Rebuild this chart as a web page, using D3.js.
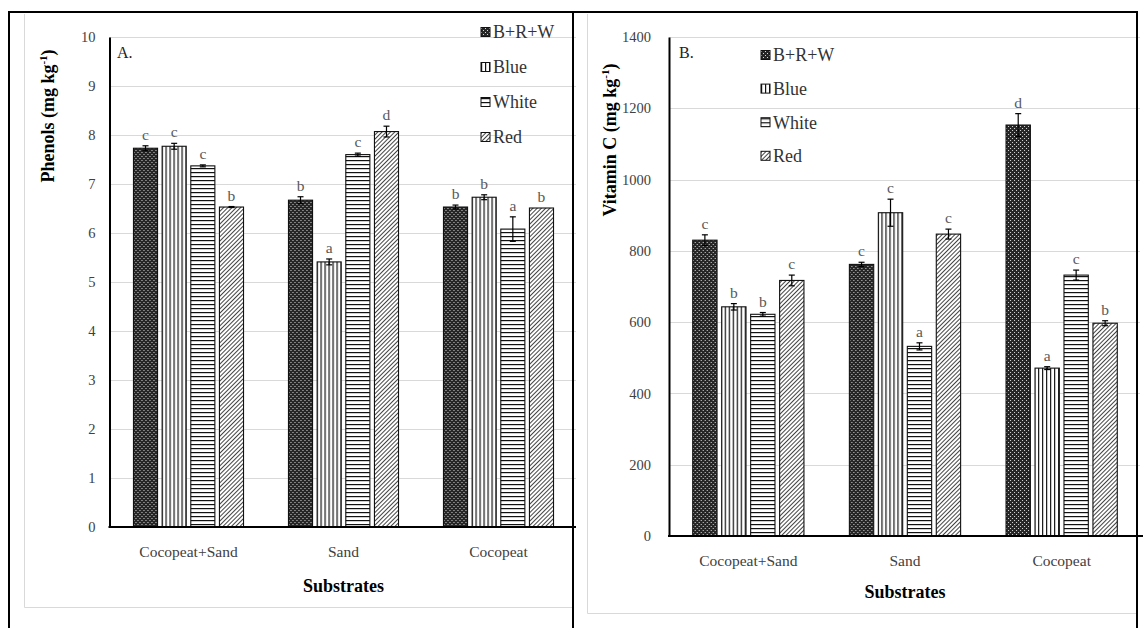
<!DOCTYPE html>
<html>
<head>
<meta charset="utf-8">
<script src="https://cdn.jsdelivr.net/npm/d3@7"></script>
<style>
  body { margin: 0; background: #fff; }
  svg { display: block; }
  text { font-family: "Liberation Serif", "Times New Roman", serif; }
</style>
</head>
<body>
<svg id="chart" width="1143" height="628"></svg>
<script>
// ---- data ----
const substrates = ["Cocopeat+Sand", "Sand", "Cocopeat"];
const treatments = ["B+R+W", "Blue", "White", "Red"];

// Phenols (mg kg-1): one row per substrate, one column per light treatment
const phenolMeans   = [[7.73, 7.77, 7.37, 6.53], [6.67, 5.41, 7.60, 8.07], [6.53, 6.73, 6.08, 6.51]];
const phenolErrors  = [[0.05, 0.06, 0.02, 0.01], [0.07, 0.06, 0.03, 0.11], [0.04, 0.05, 0.25, 0.00]];
const phenolLetters = [["c", "c", "c", "b"], ["b", "a", "c", "d"], ["b", "b", "a", "b"]];
const phenolTicks   = [0, 1, 2, 3, 4, 5, 6, 7, 8, 9, 10];

// Vitamin C (mg kg-1)
const vitCMeans   = [[830, 643, 622, 717], [762, 907, 532, 847], [1153, 471, 732, 597]];
const vitCErrors  = [[15, 9, 5, 15], [6, 38, 10, 14], [32, 4, 14, 7]];
const vitCLetters = [["c", "b", "b", "c"], ["c", "c", "a", "c"], ["d", "a", "c", "b"]];
const vitCTicks   = [0, 200, 400, 600, 800, 1000, 1200, 1400];

const svg = d3.select("#chart");

// ---- fill patterns, one per light treatment ----
const defs = svg.append("defs");
const pBRW = defs.append("pattern").attr("id", "pat-0")
  .attr("patternUnits", "userSpaceOnUse").attr("width", 4).attr("height", 4);
pBRW.append("rect").attr("width", 4).attr("height", 4).attr("fill", "#262626");
pBRW.append("rect").attr("x", 0).attr("y", 0).attr("width", 1).attr("height", 1).attr("fill", "#d8d8d8");
pBRW.append("rect").attr("x", 2).attr("y", 2).attr("width", 1).attr("height", 1).attr("fill", "#d8d8d8");

const pBlue = defs.append("pattern").attr("id", "pat-1")
  .attr("patternUnits", "userSpaceOnUse").attr("width", 4).attr("height", 4);
pBlue.append("rect").attr("width", 4).attr("height", 4).attr("fill", "#fff");
pBlue.append("rect").attr("x", 0).attr("width", 1.2).attr("height", 4).attr("fill", "#111");

const pWhite = defs.append("pattern").attr("id", "pat-2")
  .attr("patternUnits", "userSpaceOnUse").attr("width", 4).attr("height", 4);
pWhite.append("rect").attr("width", 4).attr("height", 4).attr("fill", "#fff");
pWhite.append("rect").attr("y", 0).attr("width", 4).attr("height", 1.2).attr("fill", "#111");

const pRed = defs.append("pattern").attr("id", "pat-3")
  .attr("patternUnits", "userSpaceOnUse").attr("width", 3).attr("height", 3)
  .attr("patternTransform", "rotate(45)");
pRed.append("rect").attr("width", 3).attr("height", 3).attr("fill", "#fff");
pRed.append("rect").attr("x", 0).attr("width", 1).attr("height", 3).attr("fill", "#444");

// ---- light chart-area borders ----
const frames = svg.append("g");
frames.append("path").attr("d", "M24.5,14V607.5H573").attr("fill", "none").attr("stroke", "#d9d9d9");
frames.append("path").attr("d", "M587.5,14V613.5H1137").attr("fill", "none").attr("stroke", "#d9d9d9");

function drawPanel(cfg) {
  const g = svg.append("g");
  const y = d3.scaleLinear().domain([cfg.ticks[0], cfg.ticks[cfg.ticks.length - 1]]).range(cfg.yRange);
  const x0 = d3.scaleBand().domain(substrates).range(cfg.xRange);
  const groupW = x0.bandwidth() * 0.71;
  const x1 = d3.scaleBand().domain(treatments).range([0, groupW]).paddingInner(0.16);

  // gridlines
  g.append("g").selectAll("line").data(cfg.ticks.slice(1)).join("line")
    .attr("x1", cfg.axisX).attr("x2", cfg.gridEnd)
    .attr("y1", d => Math.round(y(d)) + 0.5).attr("y2", d => Math.round(y(d)) + 0.5)
    .attr("stroke", "#d9d9d9").attr("stroke-width", 1.2);

  // bars
  const groups = g.append("g").selectAll("g").data(substrates).join("g")
    .attr("transform", d => `translate(${x0(d) + (x0.bandwidth() - groupW) / 2},0)`);
  groups.each(function (s, si) {
    const gg = d3.select(this);
    const rows = treatments.map((t, ti) => ({
      t, ti, v: cfg.means[si][ti], e: cfg.errors[si][ti], l: cfg.letters[si][ti]
    }));
    gg.selectAll("rect").data(rows).join("rect")
      .attr("x", d => x1(d.t)).attr("width", x1.bandwidth())
      .attr("y", d => y(d.v)).attr("height", d => y(0) - y(d.v))
      .attr("fill", d => `url(#pat-${d.ti})`)
      .attr("stroke", "#111").attr("stroke-width", 1.1);
    // error bars
    const eb = gg.selectAll("g.err").data(rows.filter(d => d.e > 0)).join("g").attr("class", "err")
      .attr("stroke", "#000").attr("stroke-width", 1.2);
    const cx = d => x1(d.t) + x1.bandwidth() / 2;
    eb.append("line").attr("x1", cx).attr("x2", cx)
      .attr("y1", d => y(d.v + d.e)).attr("y2", d => y(d.v - d.e));
    eb.append("line").attr("x1", d => cx(d) - 3).attr("x2", d => cx(d) + 3)
      .attr("y1", d => y(d.v + d.e)).attr("y2", d => y(d.v + d.e));
    eb.append("line").attr("x1", d => cx(d) - 3).attr("x2", d => cx(d) + 3)
      .attr("y1", d => y(d.v - d.e)).attr("y2", d => y(d.v - d.e));
    // significance letters
    gg.selectAll("text.sig").data(rows).join("text").attr("class", "sig")
      .attr("x", cx)
      .attr("y", d => y(d.v + d.e) - 6)
      .attr("text-anchor", "middle").attr("font-size", 15.5).attr("fill", "#595959")
      .text(d => d.l);
  });

  // value axis
  const yAxis = g.append("g").attr("transform", `translate(${cfg.axisX},0)`)
    .call(d3.axisLeft(y).tickValues(cfg.ticks).tickFormat(d3.format("d"))
      .tickSize(0).tickPadding(cfg.tickPad).tickSizeOuter(0));
  yAxis.select(".domain").attr("stroke", "#000").attr("stroke-width", 2);
  yAxis.selectAll("text").attr("font-family", '"Liberation Serif", serif')
    .attr("font-size", 14.5).attr("fill", "#404040");

  // category axis
  g.append("line").attr("x1", cfg.axisX - 1).attr("x2", cfg.xAxisEnd)
    .attr("y1", y(0)).attr("y2", y(0)).attr("stroke", "#000").attr("stroke-width", 2);
  const xAxis = g.append("g").attr("transform", `translate(0,${y(0)})`)
    .call(d3.axisBottom(x0).tickSize(0).tickPadding(19));
  xAxis.select(".domain").remove();
  xAxis.selectAll("text").attr("font-family", '"Liberation Serif", serif')
    .attr("font-size", 15.5).attr("fill", "#404040");

  // axis titles
  g.append("text").attr("x", (cfg.xRange[0] + cfg.xRange[1]) / 2).attr("y", cfg.xTitleY)
    .attr("text-anchor", "middle").attr("font-size", 18).attr("font-weight", "bold")
    .text("Substrates");
  const yt = g.append("text")
    .attr("transform", `translate(${cfg.yTitle[0]},${cfg.yTitle[1]}) rotate(-90)`)
    .attr("text-anchor", "middle").attr("dy", "0.35em")
    .attr("font-size", 18).attr("font-weight", "bold");
  yt.append("tspan").text(cfg.yLabel + " (mg kg");
  yt.append("tspan").attr("font-size", 11).attr("dy", "-7").text("-1");
  yt.append("tspan").attr("dy", "7").text(")");

  // panel letter
  g.append("text").attr("x", cfg.panelPos[0]).attr("y", cfg.panelPos[1])
    .attr("font-size", 16).attr("fill", "#222").text(cfg.panel);

  // legend
  const leg = g.append("g").selectAll("g").data(treatments).join("g")
    .attr("transform", (d, i) => `translate(${cfg.legend[0]},${cfg.legend[1] + i * cfg.legend[2]})`);
  leg.append("rect").attr("x", 0).attr("y", -4.5).attr("width", 9).attr("height", 9)
    .attr("fill", (d, i) => `url(#pat-${i})`).attr("stroke", "#111").attr("stroke-width", 1);
  leg.append("text").attr("x", 12).attr("dy", "0.35em").attr("font-size", 18)
    .attr("fill", "#333").text(d => d);
}

drawPanel({
  panel: "A.", panelPos: [117, 58],
  means: phenolMeans, errors: phenolErrors, letters: phenolLetters, ticks: phenolTicks,
  yRange: [527, 37], xRange: [111, 576], axisX: 109.5, gridEnd: 576, xAxisEnd: 576,
  tickPad: 14, xTitleY: 592, yTitle: [48, 116], yLabel: "Phenols",
  legend: [481, 32, 35]
});

drawPanel({
  panel: "B.", panelPos: [679, 58],
  means: vitCMeans, errors: vitCErrors, letters: vitCLetters, ticks: vitCTicks,
  yRange: [536, 37], xRange: [670, 1140], axisX: 669, gridEnd: 1140, xAxisEnd: 1143,
  tickPad: 18, xTitleY: 598, yTitle: [610, 140], yLabel: "Vitamin C",
  legend: [761, 55, 33.6]
});

// black outlines of both panels
const outline = svg.append("g").attr("fill", "none").attr("stroke", "#000").attr("stroke-width", 2);
outline.append("path").attr("d", "M9,628V12H1137V628");
outline.append("path").attr("d", "M573,12V628");
</script>
</body>
</html>
